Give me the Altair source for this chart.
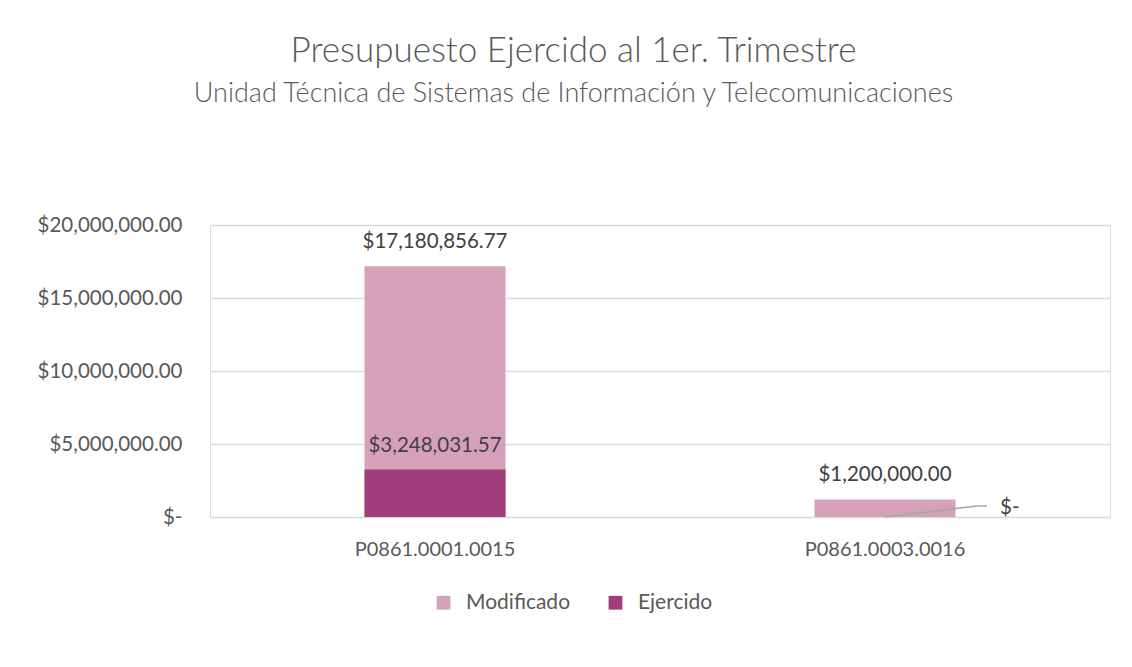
import altair as alt
import pandas as pd

categories = ["P0861.0001.0015", "P0861.0003.0016"]
series = ["Modificado", "Ejercido"]
modificado = [17180856.77, 1200000.00]
ejercido = [3248031.57, 0.0]
y_ticks = [0, 5000000, 10000000, 15000000, 20000000]

rows = []
for c, v in zip(categories, modificado):
    rows.append({"cat": c, "serie": "Modificado", "valor": v})
for c, v in zip(categories, ejercido):
    rows.append({"cat": c, "serie": "Ejercido", "valor": v})
df = pd.DataFrame(rows)

FONT = "Lato"
GRAY = "#595959"
colors = ["#D5A1B9", "#A23D7C"]

base = alt.Chart(df).encode(
    x=alt.X("cat:N", sort=categories, title=None,
            axis=alt.Axis(labelAngle=0, labelFontSize=20, labelColor=GRAY, labelFont=FONT,
                          domain=False, ticks=False, labelPadding=22)),
    y=alt.Y("valor:Q", title=None, stack=None,
            scale=alt.Scale(domain=[0, 20000000], nice=False),
            axis=alt.Axis(values=y_ticks, domain=False, ticks=False, labelPadding=28,
                          labelFontSize=20.5, labelColor=GRAY, labelFont=FONT,
                          gridColor="#D9D9D9", gridWidth=1.3,
                          labelExpr="datum.value == 0 ? '$-' : '$' + format(datum.value, ',.2f')")),
)

bars = base.mark_bar(size=141).encode(
    color=alt.Color("serie:N", scale=alt.Scale(domain=series, range=colors),
                    sort=series,
                    legend=alt.Legend(title=None, orient="none", direction="horizontal",
                                      legendX=223, legendY=367,
                                      symbolType="square", symbolSize=190, symbolStrokeWidth=0,
                                      labelFontSize=21, labelColor=GRAY, labelFont=FONT,
                                      columnPadding=34, labelOffset=12)),
    order=alt.Order("ord:Q"),
).transform_calculate(ord="datum.serie == 'Modificado' ? 0 : 1")

labels = base.transform_filter("datum.valor > 0").mark_text(
    baseline="alphabetic", dy=-18, fontSize=20.5, font=FONT, color="#404040"
).encode(text=alt.Text("lbl:N")).transform_calculate(
    lbl="'$' + format(datum.valor, ',.2f')"
)

zero_lbl = base.transform_filter("datum.valor == 0").mark_text(
    align="left", baseline="middle", dx=115, dy=-9, fontSize=20.5, font=FONT, color="#404040"
).encode(text=alt.value("$-"))

leader1 = base.transform_filter("datum.valor == 0").mark_rule(
    color="#A6A6A6", strokeWidth=1.5, x2Offset=92, y2Offset=-11
).encode(x2=alt.X2("cat:N"), y2=alt.Y2("valor:Q"))

leader2 = base.transform_filter("datum.valor == 0").mark_rule(
    color="#A6A6A6", strokeWidth=1.5, xOffset=92, yOffset=-11, x2Offset=102, y2Offset=-11
).encode(x2=alt.X2("cat:N"), y2=alt.Y2("valor:Q"))

chart = alt.layer(bars, leader1, leader2, labels, zero_lbl).properties(
    width=900, height=292,
    title=alt.TitleParams(
        text="Presupuesto Ejercido al 1er. Trimestre",
        subtitle="Unidad Técnica de Sistemas de Información y Telecomunicaciones",
        fontSize=35, font=FONT, fontWeight=300, color=GRAY,
        subtitleFontSize=27, subtitleFont=FONT, subtitleFontWeight=300, subtitleColor=GRAY,
        subtitlePadding=12,
        anchor="middle", frame="bounds", offset=108,
    ),
).configure_view(stroke=None).configure(padding={"left": 29, "top": 26, "right": 10, "bottom": 10})

chart.save("out.html", embed_options={"renderer": "svg", "actions": False})
